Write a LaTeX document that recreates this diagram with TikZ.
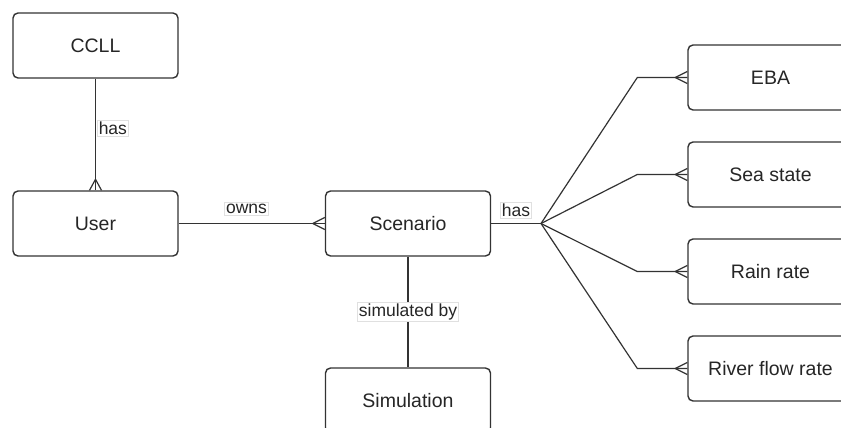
\documentclass[tikz,border=0pt]{standalone}
\usepackage{fontspec}
\setmainfont{Liberation Sans}
\usetikzlibrary{calc}
\definecolor{ln}{HTML}{333333}
\begin{document}
\begin{tikzpicture}[x=1pt,y=-1pt,
  entity/.style={draw=ln, line width=1.4pt, rounded corners=5pt, fill=white,
    minimum width=165pt, minimum height=65pt, inner sep=0pt, text=black!85,
    font=\fontsize{19.5}{21}\selectfont},
  rel/.style={draw=ln, line width=1.2pt},
  lbl/.style={fill=white, draw=black!12, line width=0.5pt, inner sep=1.5pt,
    text=black!85, font=\fontsize{17.5}{19}\selectfont}]
\clip (0,0) rectangle (841,428);
\fill[white] (0,0) rectangle (841,428);
% entities
\node[entity] (ccll) at (95.5,45.5) {CCLL};
\node[entity] (user) at (95.5,223.5) {User};
\node[entity] (scen) at (408,223.5) {Scenario};
\node[entity] (sim) at (408,400.5) {Simulation};
\node[entity] (eba) at (770.5,77.5) {EBA};
\node[entity] (sea) at (770.5,174.5) {Sea state};
\node[entity] (rain) at (770.5,271.5) {Rain rate};
\node[entity] (river) at (770.5,368.5) {River flow rate};
% relations
\draw[rel] (ccll.south) -- (user.north);
\draw[rel] ($(user.north)+(0,-11)$) -- ($(user.north)+(-6,0)$);
\draw[rel] ($(user.north)+(0,-11)$) -- ($(user.north)+(6,0)$);
\node[lbl, anchor=west] (l1) at (97,128) {has};

\draw[rel] (user.east) -- (scen.west);
\draw[rel] ($(scen.west)+(-12,0)$) -- ($(scen.west)+(0,-6)$);
\draw[rel] ($(scen.west)+(-12,0)$) -- ($(scen.west)+(0,6)$);
\node[lbl] (l2) at (246.5,209) {owns};

\draw[rel] (scen.south) -- (sim.north);
\node[lbl] (l3) at (408,312) {simulated by};

\coordinate (fan) at (541,223.5);
\draw[rel] (scen.east) -- (fan);
\node[lbl] (l4) at (516,210) {has};
\foreach \t in {eba,sea,rain,river}{
  \draw[rel] (fan) -- ($(\t.west)+(-50,0)$) -- (\t.west);
  \draw[rel] ($(\t.west)+(-12,0)$) -- ($(\t.west)+(0,-6)$);
  \draw[rel] ($(\t.west)+(-12,0)$) -- ($(\t.west)+(0,6)$);
}
\end{tikzpicture}
\end{document}
